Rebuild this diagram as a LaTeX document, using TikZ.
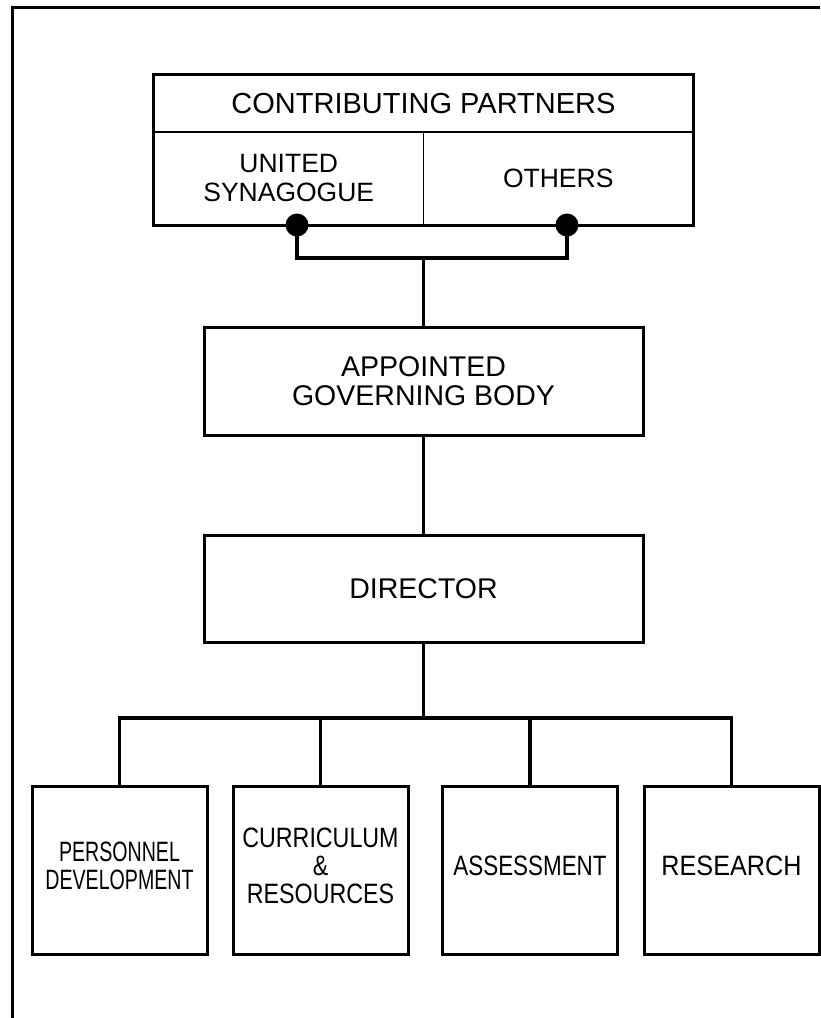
\documentclass[tikz,border=0pt]{standalone}
\usepackage{fontspec}
\usepackage{graphicx}
\setmainfont{Liberation Sans}
\newcommand{\stacked}[2][1]{\scalebox{#1}[1]{\begin{tabular}{@{}c@{}}#2\end{tabular}}}
\begin{document}
\begin{tikzpicture}[x=1pt, y=-1pt,
  unitbox/.style={draw, line width=3pt, inner sep=0pt, align=center,
    font=\fontsize{28.5}{28.5}\selectfont},
  cell/.style={draw, line width=1.6pt, inner sep=0pt, align=center,
    font=\fontsize{26.5}{29}\selectfont},
  deptbox/.style={draw, line width=3pt, inner sep=0pt, align=center,
    minimum width=175pt, minimum height=168pt,
    font=\fontsize{28}{27.5}\selectfont},
  link/.style={line width=3.2pt},
  dot/.style={fill=black},
  outline/.style={line width=3pt}]
\useasboundingbox (0,0) rectangle (820,1018);

% page rule along the top and left edge
\draw[outline] (820,7) -- (12,7) -- (12,1018);

% contributing partners: a title row over two cells
\node[cell, minimum width=539pt, minimum height=57pt] (cp) at (423.5,103.5)
  {\fontsize{29}{29}\selectfont CONTRIBUTING PARTNERS};
\node[cell, minimum width=269.5pt, minimum height=93pt] (us) at (288.75,178.5)
  {UNITED\\SYNAGOGUE};
\node[cell, minimum width=269.5pt, minimum height=93pt] (oth) at (558.25,178.5)
  {OTHERS};
\draw[outline] (cp.north west) rectangle (oth.south east);

% joining the two partners
\coordinate (dl) at (297,225);
\coordinate (dr) at (567,225);
\coordinate (hub) at (423.5,258);
\fill[dot] (dl) circle[radius=11.5pt];
\fill[dot] (dr) circle[radius=11.5pt];

% governing body and director
\node[unitbox, minimum width=439pt, minimum height=108pt] (gov) at (423.5,381)
  {APPOINTED\\GOVERNING BODY};
\node[unitbox, minimum width=439pt, minimum height=107pt] (dir) at (423.5,588.5)
  {DIRECTOR};

% departments
\node[deptbox] (pd) at (119.5,870) {\stacked[0.70]{PERSONNEL\\DEVELOPMENT}};
\node[deptbox] (cr) at (320.5,870) {\stacked[0.83]{CURRICULUM\\\&\\RESOURCES}};
\node[deptbox] (as) at (530,870) {\stacked[0.80]{ASSESSMENT}};
\node[deptbox] (rs) at (731.5,870) {\stacked[0.90]{RESEARCH}};
\coordinate (bus) at (423.5,718);

% connectors
\draw[link] (dl) |- (hub) -| (dr);
\draw[link] (hub) -- (gov.north);
\draw[link] (gov.south) -- (dir.north);
\draw[link] (dir.south) -- (bus);
\draw[link] (pd.north) |- (bus) -| (rs.north);
\draw[link] (cr.north) -- (cr.north |- bus);
\draw[link] (as.north) -- (as.north |- bus);
\end{tikzpicture}
\end{document}
